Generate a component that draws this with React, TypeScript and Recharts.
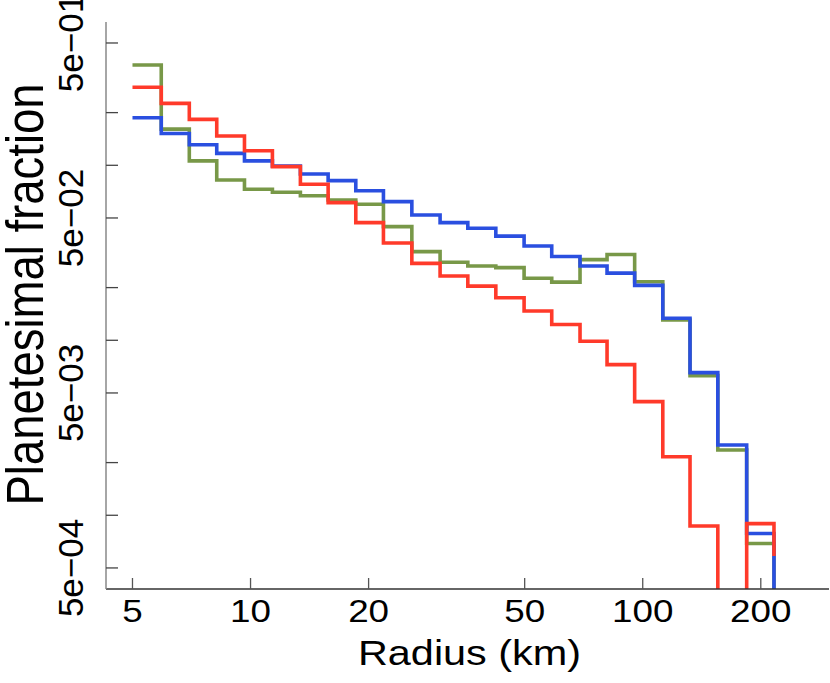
import React from "react";
import { LineChart, Line, XAxis, YAxis, Label } from "recharts";

// bin edges (km)
const radiusEdges = [
  5.0, 5.92, 6.98, 8.2, 9.65, 11.37, 13.4, 15.77, 18.55, 21.82, 25.78, 30.43,
  35.81, 42.21, 49.83, 58.61, 69.2, 81.1, 95.37, 112.5, 132.0, 155.4, 184.1, 216.1,
];

// planetesimal fraction per bin (last entry = value at the closing edge)
const greenFrac = [
  0.374, 0.161, 0.106, 0.0824, 0.073, 0.0701, 0.067, 0.0634, 0.0599, 0.0446, 0.0321, 0.0279,
  0.0266, 0.026, 0.0226, 0.0215, 0.0289, 0.0309, 0.0216, 0.01307, 0.00628, 0.00236, 0.00069, 0,
];
const blueFrac = [
  0.187, 0.152, 0.131, 0.117, 0.106, 0.0991, 0.0892, 0.0817, 0.0716, 0.062, 0.052, 0.047,
  0.0437, 0.0394, 0.0346, 0.0301, 0.0266, 0.0242, 0.0206, 0.01337, 0.00653, 0.00252, 0.000787, 0,
];
const redFrac = [
  0.279, 0.226, 0.183, 0.147, 0.121, 0.0982, 0.0779, 0.0612, 0.047, 0.036, 0.0275, 0.0233,
  0.0204, 0.0175, 0.0147, 0.0123, 0.00987, 0.00726, 0.00446, 0.00216, 0.000869, 0, 0.000896, 0.000586,
];

const xTicks = [5, 10, 20, 50, 100, 200];
const xTickLabels = ["5", "10", "20", "50", "100", "200"];
const yTicks = [0.5, 0.2, 0.1, 0.05, 0.02, 0.01, 0.005, 0.002, 0.001, 0.0005];
const yTickLabels = ["5e\u221201", "", "", "5e\u221202", "", "", "5e\u221203", "", "", "5e\u221204"];

const FONT = "'Liberation Sans', Arial, Helvetica, sans-serif";
const FLOOR = 1e-6; // zeros can't live on a log axis, push them below the frame

const rows = radiusEdges.map((r, i) => ({
  r,
  green: greenFrac[i] > 0 ? greenFrac[i] : FLOOR,
  blue: blueFrac[i] > 0 ? blueFrac[i] : FLOOR,
  red: redFrac[i] > 0 ? redFrac[i] : FLOOR,
}));

const XTick = (props: any) => {
  const { x, y, payload } = props;
  const idx = xTicks.indexOf(payload.value);
  return (
    <g>
      <line x1={x} y1={y} x2={x} y2={y - 11} stroke="#555" strokeWidth={1.3} />
      <text
        transform={`translate(${x},${y + 33}) scale(1.15,1)`}
        textAnchor="middle"
        fontSize={32}
        fontFamily={FONT}
        fill="#000"
      >
        {xTickLabels[idx]}
      </text>
    </g>
  );
};

const YTick = (props: any) => {
  const { x, y, payload } = props;
  const idx = yTicks.indexOf(payload.value);
  return (
    <g>
      <line x1={x} y1={y} x2={x + 12} y2={y} stroke="#444" strokeWidth={1.3} />
      {yTickLabels[idx] && (
        <text
          transform={`translate(${x - 23},${y}) rotate(-90)`}
          textAnchor="middle"
          fontSize={35}
          fontFamily={FONT}
          fill="#000"
        >
          {yTickLabels[idx]}
        </text>
      )}
    </g>
  );
};

const XTitle = (props: any) => {
  const { x, y, width } = props.viewBox;
  return (
    <text
      transform={`translate(${x + width / 2 + 2},${y + 76}) scale(1.15,1)`}
      textAnchor="middle"
      fontSize={36}
      fontFamily={FONT}
      fill="#000"
    >
      Radius (km)
    </text>
  );
};

const YTitle = (props: any) => {
  const { y, height } = props.viewBox;
  return (
    <text
      transform={`translate(43,${y + height / 2 - 11}) scale(1.14,1) rotate(-90)`}
      textAnchor="middle"
      fontSize={45.5}
      fontFamily={FONT}
      fill="#000"
    >
      Planetesimal fraction
    </text>
  );
};

const xDomain = [4.28, 298.5];
const yDomain = [0.000379, 0.659];

export default function App() {
  return (
    <div style={{ position: "absolute", left: 0, top: 0, width: 830, height: 683, background: "#fff" }}>
      <LineChart width={830} height={683} data={rows} margin={{ top: 22, right: 1, bottom: 0, left: 0 }}>
        <XAxis
          xAxisId="x"
          dataKey="r"
          type="number"
          scale="log"
          domain={xDomain}
          allowDataOverflow
          ticks={xTicks}
          interval={0}
          tick={XTick}
          tickLine={false}
          tickSize={0}
          tickMargin={0}
          axisLine={{ stroke: "#333", strokeWidth: 1.5 }}
          height={94}
        >
          <Label content={XTitle} />
        </XAxis>
        <XAxis
          xAxisId="top"
          orientation="top"
          type="number"
          scale="log"
          domain={xDomain}
          allowDataOverflow
          height={0}
          tick={false}
          tickLine={false}
          axisLine={{ stroke: "#333", strokeWidth: 1.5 }}
        />
        <YAxis
          yAxisId="y"
          type="number"
          scale="log"
          domain={yDomain}
          allowDataOverflow
          ticks={yTicks}
          interval={0}
          tick={YTick}
          tickLine={false}
          tickSize={0}
          tickMargin={0}
          axisLine={{ stroke: "#888", strokeWidth: 1.5 }}
          width={106}
        >
          <Label content={YTitle} />
        </YAxis>
        <YAxis
          yAxisId="right"
          orientation="right"
          type="number"
          scale="log"
          domain={yDomain}
          allowDataOverflow
          width={0}
          tick={false}
          tickLine={false}
          axisLine={{ stroke: "#555", strokeWidth: 1.5 }}
        />
        <Line
          xAxisId="x"
          yAxisId="y"
          dataKey="green"
          type="stepAfter"
          stroke="#789848"
          strokeWidth={3.6}
          strokeLinejoin="miter"
          dot={false}
          isAnimationActive={false}
        />
        <Line
          xAxisId="x"
          yAxisId="y"
          dataKey="blue"
          type="stepAfter"
          stroke="#2a4fe0"
          strokeWidth={3.6}
          strokeLinejoin="miter"
          dot={false}
          isAnimationActive={false}
        />
        <Line
          xAxisId="x"
          yAxisId="y"
          dataKey="red"
          type="stepAfter"
          stroke="#ff3a2a"
          strokeWidth={3.6}
          strokeLinejoin="miter"
          dot={false}
          isAnimationActive={false}
        />
      </LineChart>
    </div>
  );
}
